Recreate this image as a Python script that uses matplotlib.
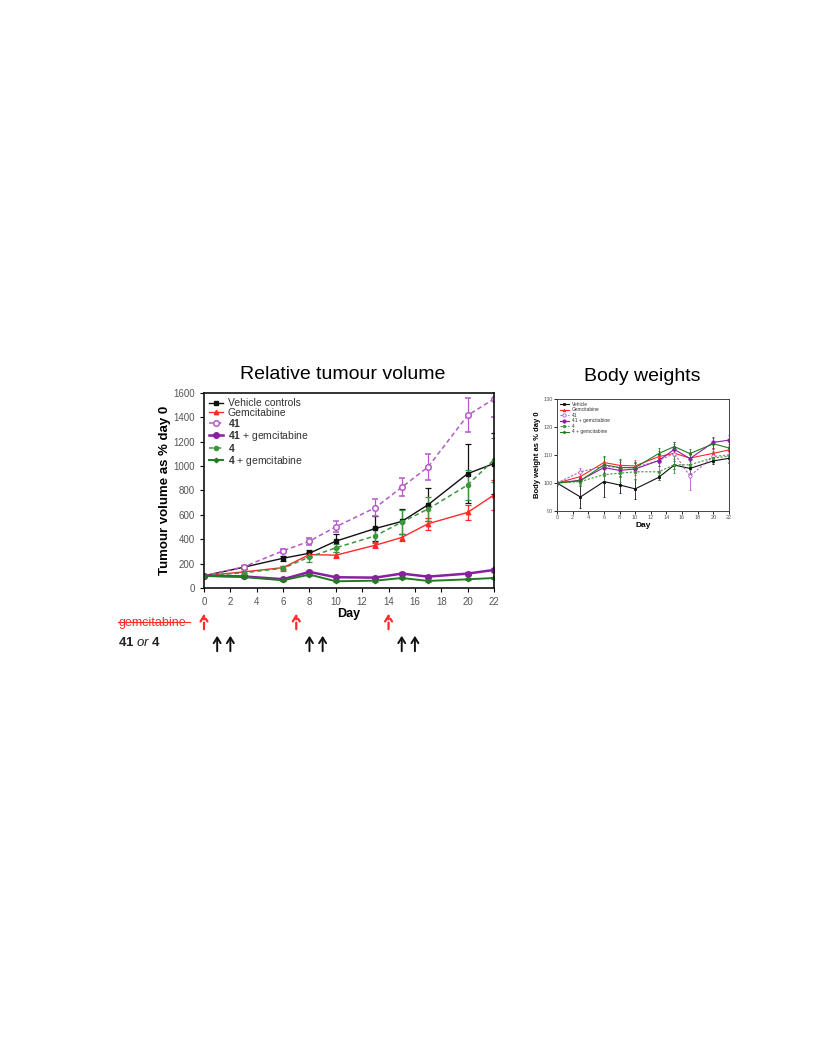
import matplotlib
matplotlib.use("Agg")
import matplotlib.pyplot as plt
import matplotlib.transforms as mtransforms
from matplotlib.lines import Line2D

plt.rcParams['font.family'] = ['Liberation Sans', 'DejaVu Sans']
plt.rcParams['mathtext.fontset'] = 'custom'
plt.rcParams['mathtext.rm'] = 'Liberation Sans'
plt.rcParams['mathtext.bf'] = 'Liberation Sans:bold'
plt.rcParams['mathtext.it'] = 'Liberation Sans:italic'

# Data
days = [0, 3, 6, 8, 10, 13, 15, 17, 20, 22]
x_ticks = list(range(0, 23, 2))

# Relative tumour volume (% of day 0)
vehicle = [100, 170, 244, 285, 384, 488, 546, 683, 938, 1021]
vehicle_err = [0, 15, 20, 30, 60, 100, 100, 135, 240, 250]
gem = [100, 132, 167, 274, 269, 351, 414, 527, 620, 763]
gem_err = [0, 10, 15, 20, 25, 25, 30, 50, 60, 120]
c41 = [100, 173, 305, 384, 502, 659, 826, 993, 1416, 1551]
c41_err = [0, 10, 15, 30, 45, 70, 75, 105, 140, 150]
c41_gem = [100, 95, 72, 132, 88, 85, 118, 93, 118, 148]
c41_gem_err = [0, 8, 8, 12, 10, 10, 12, 10, 12, 15]
c4 = [100, 125, 162, 255, 329, 428, 540, 648, 845, 1051]
c4_err = [0, 15, 20, 40, 30, 60, 100, 100, 120, 180]
c4_gem = [100, 90, 63, 110, 55, 60, 82, 58, 71, 82]
c4_gem_err = [0, 8, 8, 10, 8, 8, 10, 8, 8, 10]

# Body weights (% of day 0)
bw_vehicle = [100, 95.0, 100.5, 99.3, 97.9, 102.0, 106.4, 105.2, 107.9, 108.8]
bw_vehicle_err = [0, 4, 5.5, 3, 3.5, 1, 1.5, 1.5, 1, 1.5]
bw_gem = [100, 102.3, 107.3, 106.3, 106.1, 109.4, 110.6, 108.9, 110.6, 111.8]
bw_gem_err = [0, 1.5, 2, 2, 2, 2, 2, 2, 2, 2]
bw_41 = [100, 104, 106, 105.5, 105.5, 108, 110.5, 102.5, 109.5, 110]
bw_41_err = [0, 1.5, 2, 2, 2, 2, 4, 5, 2, 2]
bw_41_gem = [100, 101, 105.5, 104.5, 105, 108, 112, 108.7, 114.5, 115.3]
bw_41_gem_err = [0, 1.5, 2, 2, 2, 2, 2, 2, 2, 2]
bw_4 = [100, 100.5, 103, 103.5, 104, 104, 106.5, 106.5, 109, 109.5]
bw_4_err = [0, 1.5, 3, 3, 3, 3, 3, 2, 2, 2]
bw_4_gem = [100, 100.8, 106.5, 105.5, 105.5, 110.5, 113, 110.5, 114, 112.5]
bw_4_gem_err = [0, 1.5, 3, 3, 2, 2, 1.5, 1.5, 2, 2]

gem_days = [0, 7, 14]
drug_days = [1, 2, 8, 9, 15, 16]

BLACK = "#111111"
RED = "#ff2a2a"
PURPLE_LIGHT = "#b45ac8"
PURPLE = "#8a1fa0"
GREEN_LIGHT = "#3c963c"
GREEN = "#237a23"

DASH = (0, (3, 2))
series = [
    ("Vehicle controls", "Vehicle", vehicle, vehicle_err, bw_vehicle, bw_vehicle_err,
     dict(color=BLACK, marker="s", ls="-", mfc=BLACK, ms=3.2, lw=1.0)),
    ("Gemcitabine", "Gemcitabine", gem, gem_err, bw_gem, bw_gem_err,
     dict(color=RED, marker="^", ls="-", mfc=RED, ms=3.2, lw=1.0)),
    (r"$\mathbf{41}$", "41", c41, c41_err, bw_41, bw_41_err,
     dict(color=PURPLE_LIGHT, marker="o", ls=DASH, mfc="white", ms=4, lw=1.1, mew=1.1)),
    (r"$\mathbf{41}$ + gemcitabine", "41 + gemcitabine", c41_gem, c41_gem_err, bw_41_gem, bw_41_gem_err,
     dict(color=PURPLE, marker="o", ls="-", mfc=PURPLE, ms=4, lw=1.8)),
    (r"$\mathbf{4}$", "4", c4, c4_err, bw_4, bw_4_err,
     dict(color=GREEN_LIGHT, marker="o", ls=DASH, mfc=GREEN_LIGHT, ms=3, lw=1.1)),
    (r"$\mathbf{4}$ + gemcitabine", "4 + gemcitabine", c4_gem, c4_gem_err, bw_4_gem, bw_4_gem_err,
     dict(color=GREEN, marker="D", ls="-", mfc=GREEN, ms=2.3, lw=1.4)),
]

fig = plt.figure(figsize=(8.16, 10.56), dpi=100)

# ---- Relative tumour volume
ax = fig.add_axes([0.25, 0.4432, 0.3554, 0.1847])
handles = []
for label, _, vals, errs, _, _, st in series:
    cont = ax.errorbar(days, vals, yerr=errs, label=label, capsize=2, elinewidth=0.9,
                       capthick=0.9, **st)
    handles.append(cont.lines[0])
ax.set_xlim(0, 22)
ax.set_ylim(0, 1600)
ax.set_xticks(x_ticks)
ax.set_yticks(range(0, 1601, 200))
ax.tick_params(direction="out", length=3, width=0.8, labelsize=7, labelcolor="#555555")
for s in ax.spines.values():
    s.set_linewidth(1.2)
    s.set_color(BLACK)
ax.set_xlabel("Day", fontsize=9, fontweight="bold", labelpad=1)
ax.set_ylabel("Tumour volume as % day 0", fontsize=9.5, fontweight="bold", labelpad=1.5)
leg = ax.legend(handles, [s[0] for s in series], loc="upper left", frameon=False,
                fontsize=7.5, handlelength=1.3, handletextpad=0.5, labelspacing=-0.05,
                borderaxespad=0.3, borderpad=0.2)
for t in leg.get_texts():
    t.set_color("#333333")
fig.text(0.42, 0.6458, "Relative tumour volume", fontsize=14, ha="center", va="center")

# dosing schedule arrows
trans = mtransforms.blended_transform_factory(ax.transData, fig.transFigure)
for d in gem_days:
    ax.annotate("", xy=(d, 1 - 611 / 1056), xytext=(d, 1 - 632 / 1056),
                xycoords=trans, textcoords=trans, annotation_clip=False,
                arrowprops=dict(arrowstyle="->,head_length=0.4,head_width=0.25",
                                color=RED, lw=1.6, linestyle=(0, (3, 1.5))))
for d in drug_days:
    ax.annotate("", xy=(d, 1 - 633 / 1056), xytext=(d, 1 - 654 / 1056),
                xycoords=trans, textcoords=trans, annotation_clip=False,
                arrowprops=dict(arrowstyle="->,head_length=0.4,head_width=0.25",
                                color=BLACK, lw=1.4))
fig.text(118 / 816, 1 - 623 / 1056, "gemcitabine", color=RED, fontsize=9,
         ha="left", va="center")
fig.add_artist(Line2D([118 / 816, 190 / 816], [1 - 622 / 1056, 1 - 622 / 1056],
                      color=RED, lw=0.8))
fig.text(118 / 816, 1 - 643 / 1056, r"$\mathbf{41}$ $\mathit{or}$ $\mathbf{4}$",
         color="#222222", fontsize=9.5, ha="left", va="center")

# ---- Body weights
bx = fig.add_axes([0.6826, 0.5161, 0.2108, 0.1061])
bhandles = []
for _, label, _, _, vals, errs, st in series:
    st2 = dict(st)
    st2["ms"] = st["ms"] * 0.6
    st2["lw"] = 0.8
    st2["mew"] = 0.6
    if st["ls"] == DASH:
        st2["ls"] = (0, (2, 1.5))
    cont = bx.errorbar(days, vals, yerr=errs, label=label, capsize=1, elinewidth=0.6,
                       capthick=0.6, **st2)
    bhandles.append(cont.lines[0])
bx.set_xlim(0, 22)
bx.set_ylim(90, 130)
bx.set_xticks(x_ticks)
bx.set_yticks(range(90, 131, 10))
bx.tick_params(direction="out", length=2, width=0.6, labelsize=4, labelcolor="#555555", pad=1)
for s in bx.spines.values():
    s.set_linewidth(0.7)
    s.set_color("#444444")
bx.set_xlabel("Day", fontsize=6, fontweight="bold", labelpad=1)
bx.set_ylabel("Body weight as % day 0", fontsize=5.5, fontweight="bold", labelpad=2)
bleg = bx.legend(bhandles, [s[1] for s in series], loc="upper left", frameon=False,
                 fontsize=3.5, handlelength=1.8, handletextpad=0.6, labelspacing=0.1,
                 borderaxespad=0.3, borderpad=0.3)
for t in bleg.get_texts():
    t.set_color("#333333")
fig.text(0.787, 0.643, "Body weights", fontsize=14, ha="center", va="center")

fig.savefig("out.png", dpi=100)
